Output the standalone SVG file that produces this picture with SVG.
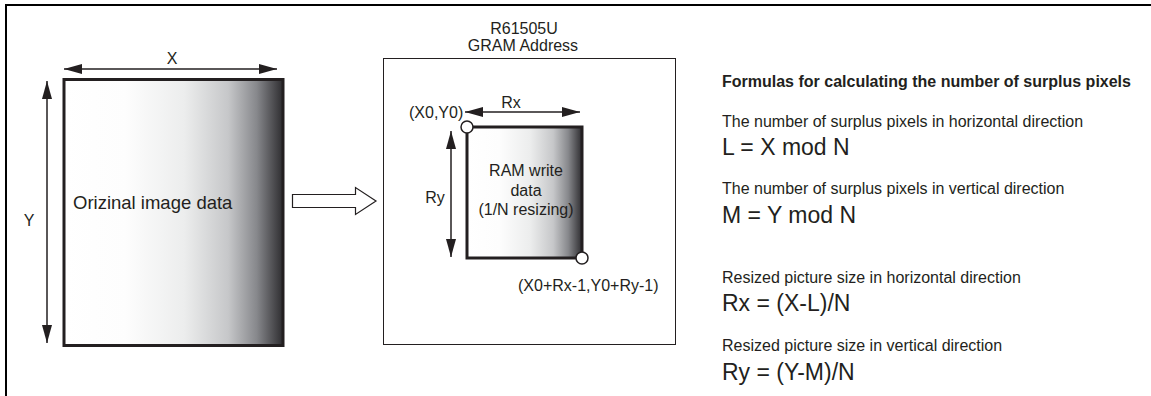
<svg xmlns="http://www.w3.org/2000/svg" width="1151" height="396" viewBox="0 0 1151 396">
<style>
text{font-family:"Liberation Sans",Arial,sans-serif;fill:#231f20}
.s{font-size:16px}
.m{font-size:18.5px}
.f{font-size:16px}
.h{font-size:16px;font-weight:bold}
.b{font-size:23px}
.dim{stroke:#231f20;stroke-width:1.5;fill:none;marker-start:url(#ah);marker-end:url(#ah)}
</style>
<defs>
<marker id="ah" viewBox="0 0 18 10" refX="18" refY="5" markerWidth="18" markerHeight="10" markerUnits="userSpaceOnUse" orient="auto-start-reverse">
<path d="M0,0 L18,5 L0,10 Z" fill="#231f20"/>
</marker>
<linearGradient id="g" x1="0" y1="0" x2="1" y2="0">
<stop offset="0" stop-color="#ffffff"/>
<stop offset="0.28" stop-color="#fdfdfd"/>
<stop offset="0.55" stop-color="#eceded"/>
<stop offset="0.75" stop-color="#c6c7c9"/>
<stop offset="0.88" stop-color="#87888c"/>
<stop offset="1" stop-color="#2e2d30"/>
</linearGradient>
</defs>
<rect x="6" y="5" width="1150" height="400" fill="none" stroke="#000" stroke-width="2"/>
<g id="original">
<rect x="64" y="79.5" width="219" height="266" fill="url(#g)" stroke="#231f20" stroke-width="3"/>
<text class="m" x="73" y="209">Orizinal image data</text>
</g>
<g id="gram">
<rect x="383.5" y="58.5" width="292" height="286" fill="#fff" stroke="#231f20" stroke-width="1"/>
<text class="s" x="524" y="34" text-anchor="middle">R61505U</text>
<text class="s" x="523" y="51" text-anchor="middle">GRAM Address</text>
</g>
<g id="ramwrite">
<rect x="467" y="127" width="115" height="131" fill="url(#g)" stroke="#231f20" stroke-width="3"/>
<text class="s" x="526" y="176" text-anchor="middle">RAM write</text>
<text class="s" x="526" y="196" text-anchor="middle">data</text>
<text class="s" x="526" y="215" text-anchor="middle">(1/N resizing)</text>
<circle cx="467" cy="127" r="6" fill="#fff" stroke="#231f20" stroke-width="1.5"/>
<circle cx="582" cy="258" r="6" fill="#fff" stroke="#231f20" stroke-width="1.5"/>
<text class="s" x="409" y="118">(X0,Y0)</text>
<text class="s" x="518" y="291">(X0+Rx-1,Y0+Ry-1)</text>
</g>
<g id="connectors">
<line class="dim" x1="64" y1="69" x2="277" y2="69"/>
<text class="s" x="172" y="64" text-anchor="middle">X</text>
<line class="dim" x1="47" y1="81" x2="47" y2="343"/>
<text class="s" x="29" y="226" text-anchor="middle">Y</text>
<line class="dim" x1="465" y1="112" x2="580" y2="112"/>
<text class="s" x="511" y="108" text-anchor="middle">Rx</text>
<line class="dim" x1="451" y1="131" x2="451" y2="257"/>
<text class="s" x="435" y="203" text-anchor="middle">Ry</text>
<path d="M292.5,194.5 H355.5 V187.5 L376,201 L355.5,214.5 V207.5 H292.5 Z" fill="#fff" stroke="#231f20" stroke-width="1.2"/>
</g>
<g id="formulas">
<text class="h" x="722" y="87">Formulas for calculating the number of surplus pixels</text>
<text class="f" x="722" y="127">The number of surplus pixels in horizontal direction</text>
<text class="b" x="722" y="155">L = X mod N</text>
<text class="f" x="722" y="194">The number of surplus pixels in vertical direction</text>
<text class="b" x="722" y="223">M = Y mod N</text>
<text class="f" x="722" y="283">Resized picture size in horizontal direction</text>
<text class="b" x="722" y="311">Rx = (X-L)/N</text>
<text class="f" x="722" y="351">Resized picture size in vertical direction</text>
<text class="b" x="722" y="380">Ry = (Y-M)/N</text>
</g>
</svg>
